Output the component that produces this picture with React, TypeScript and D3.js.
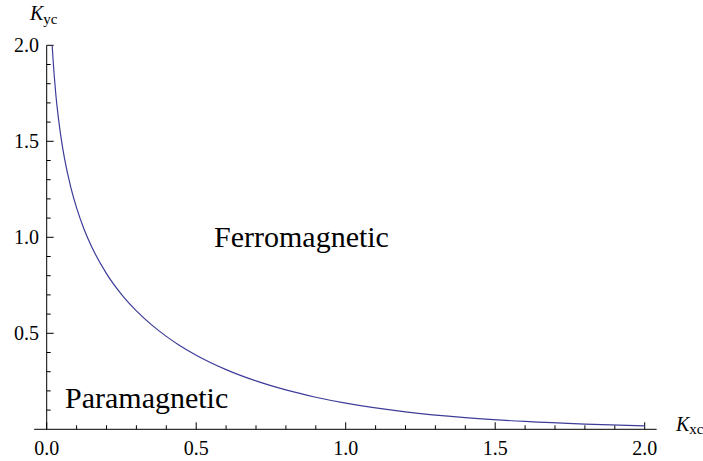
import React from "react";
import * as d3 from "d3";

// Critical line (Kxc, Kyc)
const kxc = [0.0183, 0.02, 0.03, 0.04, 0.05, 0.06, 0.08, 0.10, 0.125, 0.15, 0.2, 0.25, 0.3, 0.35, 0.4, 0.4407, 0.5, 0.6, 0.7, 0.8, 0.9, 1.0, 1.2, 1.4, 1.6, 1.8, 2.0];
const kyc = [2.0, 1.956, 1.753, 1.61, 1.498, 1.407, 1.264, 1.153, 1.042, 0.952, 0.811, 0.703, 0.617, 0.545, 0.484, 0.4407, 0.386, 0.311, 0.252, 0.205, 0.167, 0.136, 0.091, 0.0609, 0.0408, 0.0273, 0.0183];

const xMajorTicks = [0, 0.5, 1.0, 1.5, 2.0];
const yMajorTicks = [0.5, 1.0, 1.5, 2.0];
const minorTicks = d3.range(1, 20).map((i) => i / 10);

const regionLabels = ["Ferromagnetic", "Paramagnetic"];

const W = 703;
const H = 461;
const FONT = '"Liberation Serif", "DejaVu Serif", Times, serif';
const CURVE = "#3d3d99";

export default function App() {
  const x = d3.scaleLinear().domain([0, 2]).range([46.7, 644.7]);
  const y = d3.scaleLinear().domain([0, 2]).range([429.3, 45.3]);
  const pts: [number, number][] = kxc.map((v, i) => [v, kyc[i]]);
  const line = d3
    .line<[number, number]>()
    .x((d) => x(d[0]))
    .y((d) => y(d[1]))
    .curve(d3.curveMonotoneX);

  const x0 = x(0);
  const y0 = y(0);
  const isMinor = (t: number) => Math.abs(t * 2 - Math.round(t * 2)) > 1e-6;

  return (
    <svg
      width={W}
      height={H}
      style={{ position: "absolute", left: 0, top: 0, background: "#fff", fontFamily: FONT }}
    >
      {/* axes */}
      <line x1={x(-0.042)} x2={x(2.04)} y1={y0} y2={y0} stroke="#000" strokeWidth={1} />
      <line x1={x0} x2={x0} y1={y0} y2={y(2.0)} stroke="#000" strokeWidth={1} />

      {/* x ticks */}
      {minorTicks.filter(isMinor).map((t) => (
        <line key={"xm" + t} x1={x(t)} x2={x(t)} y1={y0} y2={y0 - 4} stroke="#000" strokeWidth={1} />
      ))}
      {xMajorTicks.map((t) => (
        <g key={"xM" + t}>
          <line x1={x(t)} x2={x(t)} y1={y0} y2={y0 - 7} stroke="#000" strokeWidth={1} />
          <text x={x(t)} y={455} textAnchor="middle" fontSize={20} fill="#000" style={{ fontFamily: FONT }}>
            {t.toFixed(1)}
          </text>
        </g>
      ))}

      {/* y ticks */}
      {minorTicks.filter(isMinor).map((t) => (
        <line key={"ym" + t} x1={x0} x2={x0 + 4} y1={y(t)} y2={y(t)} stroke="#000" strokeWidth={1} />
      ))}
      {yMajorTicks.map((t) => (
        <g key={"yM" + t}>
          <line x1={x0} x2={x0 + 7} y1={y(t)} y2={y(t)} stroke="#000" strokeWidth={1} />
          <text x={39} y={y(t) + 7} textAnchor="end" fontSize={20} fill="#000" style={{ fontFamily: FONT }}>
            {t.toFixed(1)}
          </text>
        </g>
      ))}

      {/* curve */}
      <path d={line(pts) || ""} fill="none" stroke={CURVE} strokeWidth={1.2} />

      {/* axis labels */}
      <text x={30} y={20} fontSize={20} fill="#000" style={{ fontFamily: FONT }}>
        <tspan fontStyle="italic">K</tspan>
        <tspan fontSize={15} dy={4}>yc</tspan>
      </text>
      <text x={676} y={431} fontSize={20} fill="#000" style={{ fontFamily: FONT }}>
        <tspan fontStyle="italic">K</tspan>
        <tspan fontSize={15} dy={3}>xc</tspan>
      </text>

      {/* region labels */}
      <text x={214} y={246.5} fontSize={30} fill="#000" style={{ fontFamily: FONT }}>
        {regionLabels[0]}
      </text>
      <text x={65} y={408} fontSize={30} fill="#000" style={{ fontFamily: FONT }}>
        {regionLabels[1]}
      </text>
    </svg>
  );
}
